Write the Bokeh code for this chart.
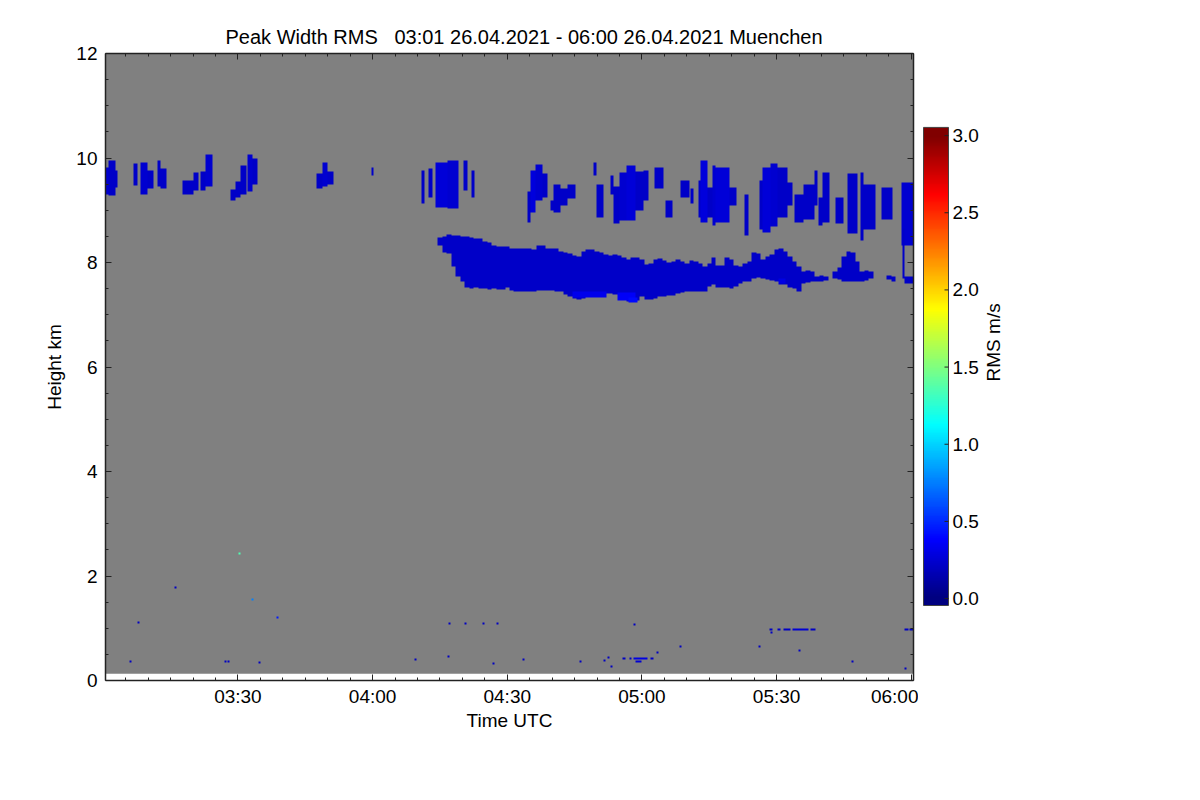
import numpy as np
from bokeh.plotting import figure
from bokeh.models import (Range1d, FixedTicker, LinearAxis, LinearColorMapper,
                          Title, CustomJSTickFormatter)
from bokeh.layouts import row
from bokeh.embed import file_html
from bokeh.resources import INLINE
from bokeh.core.properties import value

# ---------------- data (time: minutes after 03:00 UTC, height: km, RMS: m/s) -------------
time_ticks = [30, 60, 90, 120, 150, 180]
time_tick_labels = ["03:30", "04:00", "04:30", "05:00", "05:30", "06:00"]
height_ticks = [0, 2, 4, 6, 8, 10, 12]
rms_ticks = [0.0, 0.5, 1.0, 1.5, 2.0, 2.5, 3.0]
rms_tick_labels = ["0.0", "0.5", "1.0", "1.5", "2.0", "2.5", "3.0"]

scan_start, scan_end = 0.5, 180.5      # measured period 03:01 - 06:00
first_gate, last_gate = 0.13, 12.0     # km

# lower cloud layer, one column per minute
band_t = [75, 76, 77, 78, 79, 80, 81, 82, 83, 84, 85, 86, 87, 88, 89, 90, 91, 92, 93, 94,
          95, 96, 97, 98, 99, 100, 101, 102, 103, 104, 105, 106, 107, 108, 109, 110, 111,
          112, 113, 114, 115, 116, 117, 118, 119, 120, 121, 122, 123, 124, 125, 126, 127,
          128, 129, 130, 131, 132, 133, 134, 135, 136, 137, 138, 139, 140, 141, 142, 143,
          144, 145, 146, 147, 148, 149, 150, 151, 152, 153, 154, 155, 156, 157, 158, 159,
          160, 161, 163, 164, 165, 166, 167, 168, 169, 170, 171, 175, 176, 179, 180]
band_top = [8.47, 8.49, 8.53, 8.51, 8.51, 8.49, 8.49, 8.47, 8.46, 8.45, 8.41, 8.38, 8.33,
            8.30, 8.30, 8.30, 8.26, 8.27, 8.27, 8.27, 8.26, 8.24, 8.32, 8.32, 8.27, 8.27,
            8.26, 8.22, 8.19, 8.17, 8.14, 8.11, 8.22, 8.24, 8.24, 8.22, 8.19, 8.15, 8.14,
            8.15, 8.13, 8.09, 8.06, 8.09, 8.09, 8.06, 7.96, 7.98, 8.05, 8.08, 8.03, 8.00,
            8.01, 8.05, 8.01, 7.98, 8.03, 8.01, 7.98, 7.92, 7.98, 8.09, 7.95, 7.95, 8.09,
            8.05, 7.94, 7.92, 7.98, 8.01, 8.19, 8.17, 8.05, 8.11, 8.15, 8.24, 8.26, 8.22,
            8.11, 8.01, 7.92, 7.82, 7.85, 7.82, 7.73, 7.76, 7.73, 7.82, 7.90, 8.11, 8.22,
            8.19, 8.01, 7.82, 7.85, 7.82, 7.76, 7.73, 7.73, 7.73]
band_base = [8.33, 8.20, 8.17, 7.92, 7.73, 7.63, 7.53, 7.50, 7.52, 7.50, 7.50, 7.49, 7.50,
             7.49, 7.49, 7.53, 7.46, 7.44, 7.44, 7.45, 7.45, 7.45, 7.47, 7.47, 7.47, 7.47,
             7.45, 7.44, 7.39, 7.34, 7.31, 7.30, 7.31, 7.34, 7.34, 7.34, 7.39, 7.41, 7.41,
             7.39, 7.37, 7.31, 7.26, 7.23, 7.28, 7.34, 7.30, 7.30, 7.32, 7.34, 7.34, 7.36,
             7.36, 7.41, 7.43, 7.44, 7.44, 7.44, 7.44, 7.44, 7.55, 7.57, 7.53, 7.53, 7.52,
             7.50, 7.55, 7.60, 7.63, 7.64, 7.69, 7.71, 7.69, 7.68, 7.66, 7.63, 7.58, 7.57,
             7.53, 7.50, 7.45, 7.60, 7.62, 7.64, 7.63, 7.64, 7.66, 7.69, 7.68, 7.64, 7.63,
             7.63, 7.63, 7.63, 7.66, 7.69, 7.68, 7.63, 7.60, 7.60]
band_rms = [0.22] * len(band_t)

# brighter spots near the base of the lower layer
spot_t0 = [104.5, 114.5, 117.0, 150.5]
spot_t1 = [112.0, 118.5, 119.0, 152.0]
spot_base = [7.33, 7.27, 7.24, 7.60]
spot_top = [7.45, 7.42, 7.33, 7.70]
spot_rms = [0.32, 0.36, 0.40, 0.30]

# cirrus streaks around 9-10 km
cir_t0 = [0.5, 1.2, 2.7, 6.8, 8.3, 9.8, 12.0, 12.8, 17.6, 20.2, 21.7, 22.8, 28.4, 29.5,
          30.6, 32.1, 33.2, 47.5, 48.8, 50.0, 59.7, 70.9, 72.5, 74.0, 76.6, 80.2, 82.0,
          94.6, 95.2, 96.3, 97.8, 99.7, 100.4, 101.9, 103.4, 109.3, 109.9, 113.1, 113.6,
          115.0, 116.6, 118.5, 120.4, 122.7, 125.3, 128.6, 130.9, 132.5, 133.1, 134.6,
          135.7, 136.5, 139.4, 142.9, 146.1, 146.8, 148.7, 150.3, 152.4, 154.0, 156.1,
          158.5, 159.4, 160.2, 163.2, 165.8, 168.7, 169.3, 173.3, 177.8, 178.0]
cir_t1 = [1.2, 2.7, 3.2, 7.7, 9.8, 11.3, 12.8, 14.1, 20.2, 21.3, 22.8, 24.3, 29.5, 30.6,
          32.0, 33.2, 34.4, 48.8, 50.0, 51.2, 60.1, 71.6, 73.3, 76.6, 79.2, 81.1, 82.6,
          95.2, 96.3, 97.8, 98.9, 100.4, 101.9, 103.4, 105.2, 109.9, 111.5, 113.6, 115.0,
          116.6, 118.5, 120.4, 121.4, 124.9, 126.8, 130.5, 131.5, 133.1, 134.6, 135.7,
          136.5, 139.4, 141.1, 143.8, 146.8, 148.7, 150.3, 152.4, 153.5, 156.1, 158.5,
          159.1, 160.2, 161.7, 164.9, 168.0, 169.3, 172.1, 175.8, 180.5, 178.6]
cir_base = [9.31, 9.28, 9.44, 9.47, 9.31, 9.41, 9.45, 9.41, 9.31, 9.38, 9.38, 9.45, 9.19,
            9.25, 9.31, 9.35, 9.50, 9.41, 9.45, 9.50, 9.67, 9.12, 9.25, 9.06, 9.03, 9.38,
            9.25, 8.77, 8.96, 9.19, 9.25, 8.99, 8.96, 9.09, 9.22, 9.66, 8.87, 9.31, 8.74,
            8.80, 8.80, 9.00, 9.19, 9.41, 8.87, 9.25, 9.12, 8.87, 8.77, 8.87, 8.71, 8.77,
            9.09, 8.52, 8.64, 8.58, 8.68, 8.87, 9.09, 8.77, 8.83, 9.10, 8.71, 8.77, 8.74,
            8.55, 8.42, 8.64, 8.83, 8.33, 7.70]
cir_top = [9.82, 9.95, 9.76, 9.89, 9.92, 9.76, 9.95, 9.80, 9.57, 9.73, 9.75, 10.07, 9.40,
           9.55, 9.86, 10.07, 10.00, 9.70, 9.92, 9.75, 9.81, 9.76, 9.79, 9.92, 9.95, 9.95,
           9.76, 9.35, 9.76, 9.87, 9.70, 9.19, 9.50, 9.41, 9.50, 9.92, 9.50, 9.66, 9.45,
           9.73, 9.86, 9.75, 9.76, 9.82, 9.19, 9.57, 9.41, 9.57, 9.95, 9.44, 9.86, 9.82,
           9.44, 9.31, 9.57, 9.82, 9.89, 9.82, 9.54, 9.31, 9.50, 9.76, 9.25, 9.73, 9.25,
           9.70, 9.73, 9.50, 9.44, 9.54, 8.65]
cir_rms = [0.24, 0.22, 0.22, 0.22, 0.24, 0.22, 0.22, 0.22, 0.22, 0.22, 0.22, 0.24, 0.22,
           0.22, 0.22, 0.24, 0.22, 0.22, 0.24, 0.22, 0.22, 0.22, 0.22, 0.26, 0.24, 0.22,
           0.22, 0.22, 0.28, 0.24, 0.22, 0.22, 0.22, 0.22, 0.22, 0.22, 0.22, 0.22, 0.22,
           0.24, 0.26, 0.22, 0.22, 0.22, 0.22, 0.22, 0.22, 0.22, 0.28, 0.22, 0.24, 0.26,
           0.22, 0.22, 0.22, 0.26, 0.24, 0.22, 0.22, 0.22, 0.22, 0.22, 0.22, 0.22, 0.22,
           0.22, 0.22, 0.22, 0.22, 0.24, 0.22]

# isolated low-level returns
dot_t = [6.1, 7.9, 16.1, 27.3, 27.8, 30.4, 33.3, 34.9, 38.8, 69.6, 77.0, 77.1, 80.7, 84.7,
         87.8, 87.0, 93.6, 106.3, 111.7, 112.6, 113.3, 118.4, 123.5, 128.6, 146.2, 155.2,
         167.0, 178.8]
dot_h = [0.36, 1.11, 1.78, 0.36, 0.36, 2.43, 1.55, 0.34, 1.21, 0.40, 0.46, 1.09, 1.09, 1.09,
         1.09, 0.33, 0.40, 0.36, 0.38, 0.44, 0.27, 1.08, 0.54, 0.65, 0.65, 0.58, 0.36, 0.23]
dot_rms = [0.2, 0.2, 0.2, 0.2, 0.2, 1.35, 0.75, 0.2, 0.45, 0.2, 0.2, 0.2, 0.2, 0.2,
           0.2, 0.2, 0.2, 0.2, 0.2, 0.2, 0.2, 0.2, 0.2, 0.2, 0.2, 0.2, 0.2, 0.2]

# short horizontal low-level streaks
low_t0 = [115.6, 117.2, 118.2, 121.8, 118.5, 148.5, 150.3, 151.5, 153.6, 157.6, 148.6, 178.4, 179.6]
low_t1 = [116.3, 117.6, 121.3, 122.6, 120.0, 149.0, 150.8, 153.0, 157.0, 158.7, 149.0, 179.3, 180.5]
low_h = [0.42, 0.42, 0.42, 0.42, 0.37, 0.98, 0.98, 0.98, 0.98, 0.98, 0.91, 0.98, 0.98]
low_rms = [0.2, 0.2, 0.3, 0.2, 0.25, 0.2, 0.2, 0.2, 0.25, 0.2, 0.2, 0.2, 0.2]

# ---------------- styling -------------
FONT = "Liberation Sans"
GRAY = "#808080"
AX = "#222222"


def jet(n):
    f = np.linspace(0, 1, n)
    r = np.clip(1.5 - np.abs(4 * f - 3), 0, 1)
    g = np.clip(1.5 - np.abs(4 * f - 2), 0, 1)
    b = np.clip(1.5 - np.abs(4 * f - 1), 0, 1)
    return ["#%02x%02x%02x" % (int(round(255 * a)), int(round(255 * c)), int(round(255 * d)))
            for a, c, d in zip(r, g, b)]


JET = jet(256)

# ---------------- raster of the profiler returns -------------
NX, NY = 808, 627
t_edges = np.linspace(scan_start, scan_end, NX + 1)
h_edges = np.linspace(0.0, 12.0, NY + 1)
t_mid = 0.5 * (t_edges[:-1] + t_edges[1:])
h_mid = 0.5 * (h_edges[:-1] + h_edges[1:])
grid = np.full((NY, NX), np.nan)


def paint(t0, t1, b0, b1, val):
    ix = np.where((t_mid >= t0) & (t_mid < t1))[0]
    iy = np.where((h_mid >= b0) & (h_mid < b1))[0]
    if len(ix) == 0:
        ix = [int(np.argmin(np.abs(t_mid - 0.5 * (t0 + t1))))]
    if len(iy) == 0:
        iy = [int(np.argmin(np.abs(h_mid - 0.5 * (b0 + b1))))]
    grid[np.ix_(iy, ix)] = val


for t, b, tp, v in zip(band_t, band_base, band_top, band_rms):
    paint(t - 0.5, t + 0.5, b, tp, v)
for a, c, b, tp, v in zip(spot_t0, spot_t1, spot_base, spot_top, spot_rms):
    paint(a, c, b, tp, v)
for a, c, b, tp, v in zip(cir_t0, cir_t1, cir_base, cir_top, cir_rms):
    paint(a, c, b, tp, v)
for t, h, v in zip(dot_t, dot_h, dot_rms):
    paint(t - 0.22, t + 0.22, h - 0.02, h + 0.02, v)
for a, c, h, v in zip(low_t0, low_t1, low_h, low_rms):
    paint(a, c, h - 0.02, h + 0.02, v)

mapper = LinearColorMapper(palette=JET, low=0.0, high=3.0, nan_color=(0, 0, 0, 0))

# ---------------- main panel -------------
H = 790
p = figure(width=918, height=H, output_backend="svg", toolbar_location=None,
           x_range=Range1d(scan_start, scan_end), y_range=Range1d(0, 12),
           min_border_left=105, min_border_right=5, min_border_top=53, min_border_bottom=110,
           background_fill_color="white", border_fill_color="white",
           x_axis_label="Time UTC", y_axis_label="Height km")
p.outline_line_color = None
p.grid.visible = False

bottom_axis = p.below[0]
left_axis = p.left[0]

x_ticker = FixedTicker(ticks=time_ticks, minor_ticks=list(range(5, 181, 5)))
y_ticker = FixedTicker(ticks=height_ticks, minor_ticks=list(np.arange(0, 12.01, 0.5)))

bottom_axis.ticker = x_ticker
bottom_axis.major_label_overrides = {t: l for t, l in zip(time_ticks, time_tick_labels)}
left_axis.ticker = y_ticker

for ax in [bottom_axis, left_axis]:
    ax.axis_line_color = AX
    ax.axis_line_width = 1.5
    ax.major_tick_in = 6
    ax.major_tick_out = 0
    ax.minor_tick_in = 3
    ax.minor_tick_out = 0
    ax.major_tick_line_color = AX
    ax.minor_tick_line_color = AX
    ax.major_label_text_font = FONT
    ax.major_label_text_font_size = "19px"
    ax.major_label_text_color = "black"
    ax.axis_label_text_font = FONT
    ax.axis_label_text_font_size = "19px"
    ax.axis_label_text_font_style = "normal"
    ax.axis_label_text_color = "black"

bottom_axis.major_label_standoff = 5
bottom_axis.axis_label_standoff = 0
left_axis.major_label_standoff = 8
left_axis.axis_label_standoff = 8

blank = CustomJSTickFormatter(code="return ''")
for loc, tk in [("above", x_ticker), ("right", y_ticker)]:
    ax = LinearAxis(ticker=tk, formatter=blank, major_label_standoff=0,
                    axis_line_color=AX, axis_line_width=1.5,
                    major_tick_in=6, major_tick_out=0, minor_tick_in=3, minor_tick_out=0,
                    major_tick_line_color=AX, minor_tick_line_color=AX,
                    major_label_text_font_size="1px")
    p.add_layout(ax, loc)

p.add_layout(Title(text="Peak Width RMS\u00a0\u00a0 03:01 26.04.2021 - 06:00 26.04.2021 Muenchen",
                   align="left", offset=120, text_font=FONT, text_font_size="20px",
                   text_font_style="normal", text_color="black", standoff=12), "above")

p.quad(left=[scan_start], right=[scan_end], bottom=[first_gate], top=[last_gate],
       fill_color=GRAY, line_color=None)
p.image(image=[grid], x=scan_start, y=0.0, dw=scan_end - scan_start, dh=12.0,
        color_mapper=mapper)

# ---------------- colour bar -------------
cb_low, cb_high = -0.045, 3.053          # extent of the bar
cb_y0, cb_y1 = -0.531, 3.532             # frame extent (bar is inset vertically)
cb = figure(width=272, height=H, output_backend="svg", toolbar_location=None,
            x_range=Range1d(0, 272), y_range=Range1d(cb_y0, cb_y1),
            x_axis_type=None, y_axis_type=None,
            min_border_left=0, min_border_right=0, min_border_top=53, min_border_bottom=110,
            background_fill_color="white", border_fill_color="white")
cb.outline_line_color = None
cb.grid.visible = False

grad = np.linspace(cb_low, cb_high, 478).reshape(-1, 1)
cb.image(image=[grad], x=5, y=cb_low, dw=25, dh=cb_high - cb_low,
         color_mapper=LinearColorMapper(palette=JET, low=0.0, high=3.0))
cb.quad(left=[5], right=[30], bottom=[cb_low], top=[cb_high], fill_color=None,
        line_color="#444444", line_width=1)
cb.segment(x0=[26] * len(rms_ticks), x1=[30] * len(rms_ticks), y0=rms_ticks, y1=rms_ticks,
           line_color=AX, line_width=1)
cb.text(x=[34] * len(rms_ticks), y=rms_ticks, text=rms_tick_labels,
        text_font=value(FONT), text_font_size="19px", text_align="left",
        text_baseline="middle", text_color="black")
cb.text(x=[75], y=[1.66], text=["RMS m/s"], angle=np.pi / 2,
        text_font=value(FONT), text_font_size="19px", text_align="center",
        text_baseline="middle", text_color="black")

layout = row(p, cb)
open("out.html", "w").write(file_html(layout, INLINE))
